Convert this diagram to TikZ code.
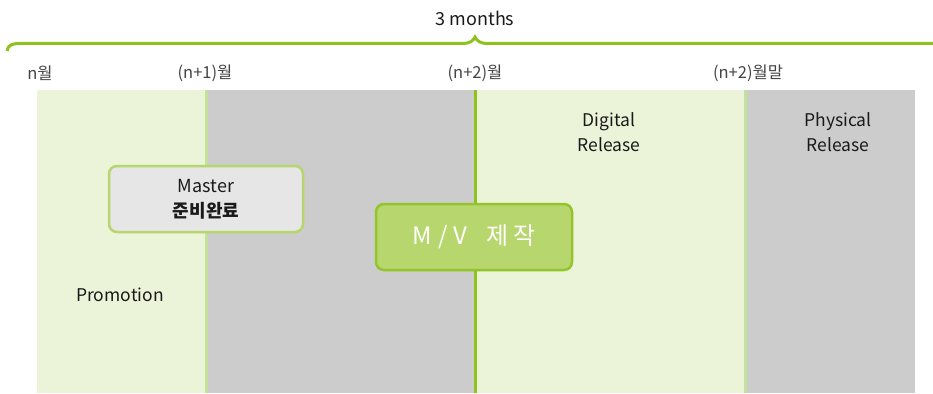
\documentclass[tikz,border=0pt]{standalone}
\usepackage{fontspec}
\setmainfont{Noto Sans CJK KR}
\definecolor{lgreen}{HTML}{EBF3D9}
\definecolor{gbg}{HTML}{CCCCCC}
\definecolor{dgreen}{HTML}{8DC21F}
\definecolor{mgreen}{HTML}{C5E09A}
\definecolor{mvfill}{HTML}{B8D66E}
\definecolor{mastfill}{HTML}{E6E6E6}
\definecolor{txt}{HTML}{1A1A1A}
\definecolor{tlab}{HTML}{444444}
\begin{document}
\begin{tikzpicture}[x=1pt,y=-1pt,
  timelab/.style={text=tlab,font=\fontsize{16.5}{18}\selectfont,inner sep=0pt},
  phase/.style={text=txt,font=\fontsize{17.5}{25}\selectfont,align=center,inner sep=0pt},
  mastbox/.style={draw=mvfill,line width=2.5pt,fill=mastfill,rounded corners=8pt,minimum width=194pt,minimum height=66pt,align=center,text=txt,font=\fontsize{18}{25}\selectfont},
  mvbox/.style={draw=dgreen!85!mvfill,line width=2.5pt,fill=mvfill,rounded corners=8pt,minimum width=196pt,minimum height=66pt,text=white,font=\fontsize{24}{26}\selectfont}]
\useasboundingbox (0,0) rectangle (933,393);
% backgrounds
\fill[lgreen] (37,90) rectangle (206,393);
\fill[gbg] (206,90) rectangle (475,393);
\fill[lgreen] (475,90) rectangle (745,393);
\fill[gbg] (745,90) rectangle (915,393);
\draw[mgreen,line width=3pt] (206,90) -- (206,393);
\draw[dgreen,line width=3pt] (475,90) -- (475,393);
\draw[mgreen,line width=3pt] (745,90) -- (745,393);
% brace
\draw[dgreen,line width=3pt] (7,51) .. controls (8,45) and (12,43.5) .. (20,43.5) -- (462,43.5) .. controls (470,43.5) and (473,41) .. (475,37) .. controls (477,41) and (480,43.5) .. (488,43.5) -- (940,43.5);
\node[text=txt,font=\fontsize{18}{20}\selectfont,inner sep=0pt] (months) at (475,18) {3 months};
% time labels
\node[timelab] (t0) at (40,73) {n월};
\node[timelab] (t1) at (205,73) {(n+1)월};
\node[timelab] (t2) at (475,73) {(n+2)월};
\node[timelab] (t3) at (748,73) {(n+2)월말};
% phases
\node[phase] (digital) at (609,132) {Digital\\Release};
\node[phase] (physical) at (838,132) {Physical\\Release};
\node[phase] (promo) at (120,295) {Promotion};
% boxes
\node[mastbox] (master) at (206,199) {Master\\\textbf{준비완료}};
\node[mvbox] (mv) at (474,237) {M\hspace{0.25em}/\hspace{0.25em}V\hspace{0.8em}제\hspace{0.2em}작};
\end{tikzpicture}
\end{document}
